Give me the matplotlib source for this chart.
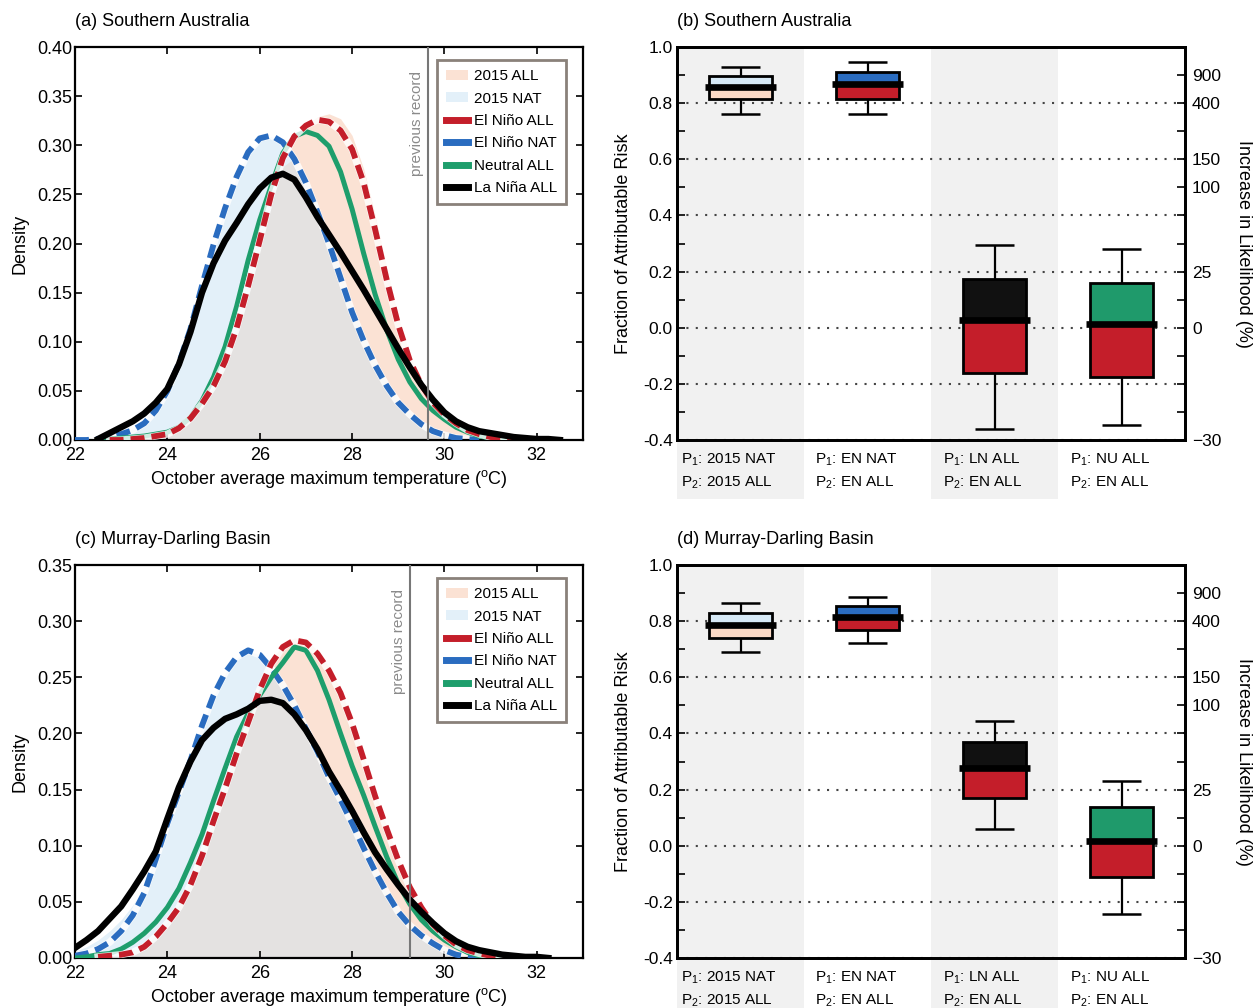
import matplotlib
matplotlib.use("Agg")
import matplotlib.pyplot as plt
import matplotlib.transforms as mtransforms
from matplotlib.lines import Line2D
from matplotlib.patches import Patch
import numpy as np

plt.rcParams["font.family"] = ["Liberation Sans", "DejaVu Sans"]
plt.rcParams["mathtext.fontset"] = "custom"
plt.rcParams["mathtext.rm"] = "Liberation Sans"
plt.rcParams["mathtext.it"] = "Liberation Sans:italic"

nan = np.nan

# temperature grid (degC) the densities are read on
temperature = np.arange(22.0, 32.51, 0.25)

# (a) Southern Australia densities
sa_all2015 = [0, 0, 0, 0, 0.000, 0.001, 0.002, 0.004, 0.007, 0.012, 0.021, 0.035, 0.053, 0.078,
              0.110, 0.150, 0.195, 0.240, 0.278, 0.305, 0.320, 0.329, 0.332, 0.327, 0.310, 0.276,
              0.228, 0.175, 0.125, 0.087, 0.060, 0.041, 0.028, 0.018, 0.011, 0.006, 0.003, 0.001,
              0, 0, 0, 0, 0]
sa_nat2015 = [0.000, 0.001, 0.002, 0.004, 0.007, 0.012, 0.020, 0.033, 0.053, 0.081, 0.116, 0.158,
              0.199, 0.236, 0.267, 0.291, 0.305, 0.309, 0.303, 0.287, 0.264, 0.235, 0.203, 0.169,
              0.135, 0.105, 0.079, 0.058, 0.041, 0.028, 0.018, 0.011, 0.006, 0.003, 0.001,
              0, 0, 0, 0, 0, 0, 0, 0]
sa_en_all = [nan, nan, nan, 0.000, 0.000, 0.001, 0.002, 0.004, 0.006, 0.012, 0.022, 0.037, 0.055,
             0.080, 0.114, 0.157, 0.203, 0.250, 0.287, 0.309, 0.320, 0.326, 0.324, 0.315, 0.296,
             0.262, 0.214, 0.163, 0.117, 0.081, 0.056, 0.038, 0.026, 0.017, 0.010, 0.006, 0.003,
             0.002, 0.001, 0.000, nan, nan, nan]
sa_en_nat = [0.000, 0.000, 0.001, 0.003, 0.006, 0.010, 0.017, 0.030, 0.050, 0.078, 0.113, 0.157,
             0.199, 0.236, 0.268, 0.293, 0.307, 0.310, 0.303, 0.286, 0.262, 0.232, 0.200, 0.165,
             0.130, 0.101, 0.076, 0.055, 0.038, 0.026, 0.016, 0.009, 0.005, 0.002, 0.001, 0.000,
             nan, nan, nan, nan, nan, nan, nan]
sa_neutral = [nan, nan, 0.000, 0.001, 0.002, 0.003, 0.004, 0.006, 0.008, 0.013, 0.023, 0.040, 0.064,
              0.095, 0.136, 0.183, 0.224, 0.259, 0.292, 0.309, 0.314, 0.310, 0.299, 0.273, 0.235,
              0.190, 0.148, 0.112, 0.082, 0.059, 0.042, 0.030, 0.021, 0.013, 0.008, 0.004, 0.002,
              0.001, 0.000, nan, nan, nan, nan]
sa_la_nina = [nan, nan, 0.001, 0.007, 0.013, 0.019, 0.027, 0.038, 0.052, 0.077, 0.110, 0.150, 0.180,
              0.203, 0.221, 0.240, 0.256, 0.267, 0.271, 0.265, 0.247, 0.227, 0.209, 0.191, 0.172,
              0.153, 0.133, 0.113, 0.093, 0.074, 0.056, 0.041, 0.028, 0.019, 0.013, 0.009, 0.007,
              0.005, 0.003, 0.002, 0.001, 0.001, 0.000]
sa_record = 29.65

# (c) Murray-Darling Basin densities
mdb_all2015 = [0, 0, 0.001, 0.002, 0.003, 0.006, 0.011, 0.020, 0.032, 0.047, 0.067, 0.093, 0.123,
               0.153, 0.184, 0.213, 0.242, 0.265, 0.279, 0.285, 0.283, 0.274, 0.259, 0.239, 0.212,
               0.180, 0.147, 0.117, 0.089, 0.065, 0.047, 0.032, 0.021, 0.013, 0.008, 0.004, 0.002,
               0.001, 0, 0, 0, 0, 0]
mdb_nat2015 = [0.006, 0.010, 0.016, 0.024, 0.034, 0.047, 0.064, 0.090, 0.120, 0.149, 0.177, 0.207,
               0.233, 0.253, 0.267, 0.273, 0.270, 0.258, 0.243, 0.225, 0.205, 0.184, 0.161, 0.141,
               0.120, 0.098, 0.077, 0.058, 0.041, 0.029, 0.020, 0.013, 0.007, 0.003, 0.001,
               0, 0, 0, 0, 0, 0, 0, 0]
mdb_en_all = [nan, nan, 0.001, 0.002, 0.003, 0.005, 0.010, 0.019, 0.031, 0.045, 0.065, 0.091, 0.122,
              0.151, 0.182, 0.210, 0.239, 0.262, 0.277, 0.283, 0.281, 0.271, 0.256, 0.236, 0.209,
              0.177, 0.144, 0.115, 0.087, 0.063, 0.045, 0.030, 0.020, 0.012, 0.007, 0.004, 0.002,
              0.001, 0.000, nan, nan, nan, nan]
mdb_en_nat = [0.002, 0.004, 0.008, 0.014, 0.024, 0.038, 0.058, 0.088, 0.120, 0.148, 0.176, 0.207,
              0.234, 0.254, 0.268, 0.274, 0.270, 0.258, 0.243, 0.225, 0.204, 0.184, 0.161, 0.141,
              0.120, 0.098, 0.077, 0.058, 0.041, 0.029, 0.020, 0.013, 0.007, 0.003, 0.001, 0.000,
              nan, nan, nan, nan, nan, nan, nan]
mdb_neutral = [0.000, 0.001, 0.003, 0.004, 0.008, 0.014, 0.022, 0.032, 0.045, 0.062, 0.085, 0.110,
               0.140, 0.169, 0.197, 0.218, 0.234, 0.250, 0.263, 0.277, 0.274, 0.256, 0.230, 0.200,
               0.171, 0.145, 0.117, 0.090, 0.066, 0.048, 0.034, 0.024, 0.016, 0.010, 0.005, 0.002,
               0.001, 0.000, nan, nan, nan, nan, nan]
mdb_la_nina = [0.009, 0.016, 0.024, 0.035, 0.046, 0.061, 0.077, 0.095, 0.124, 0.152, 0.175, 0.194,
               0.205, 0.213, 0.217, 0.222, 0.229, 0.230, 0.227, 0.217, 0.203, 0.186, 0.166, 0.149,
               0.131, 0.112, 0.094, 0.079, 0.065, 0.052, 0.041, 0.031, 0.022, 0.015, 0.010, 0.007,
               0.005, 0.003, 0.002, 0.001, 0.001, 0.000, nan]
mdb_record = 29.26

# (b), (d) fraction of attributable risk box plots
pair_labels = ["P$_1$: 2015 NAT\nP$_2$: 2015 ALL", "P$_1$: EN NAT\nP$_2$: EN ALL",
               "P$_1$: LN ALL\nP$_2$: EN ALL", "P$_1$: NU ALL\nP$_2$: EN ALL"]
sa_far_lo = [0.760, 0.762, -0.360, -0.348]
sa_far_q1 = [0.813, 0.815, -0.161, -0.175]
sa_far_med = [0.858, 0.867, 0.027, 0.015]
sa_far_q3 = [0.896, 0.911, 0.174, 0.158]
sa_far_hi = [0.929, 0.946, 0.295, 0.281]
mdb_far_lo = [0.690, 0.722, 0.060, -0.242]
mdb_far_q1 = [0.740, 0.770, 0.171, -0.110]
mdb_far_med = [0.788, 0.814, 0.277, 0.016]
mdb_far_q3 = [0.830, 0.854, 0.371, 0.139]
mdb_far_hi = [0.866, 0.886, 0.443, 0.231]
likelihood_pct = [900, 400, 150, 100, 25, 0, -30]

PEACH = "#fbe2d4"
LIGHTBLUE = "#e3f0f9"
OVERLAP = "#e4e2e1"
RED = "#c41e2a"
BLUE = "#2a6cc0"
GREEN = "#1e9e6c"
upper_colors = ["#d6e9f6", BLUE, "#111111", "#1f9a6b"]
lower_colors = ["#fbd9c5", RED, RED, RED]


def draw_density(ax, all2015, nat2015, en_all, en_nat, neutral, la_nina, record, ymax, title):
    all_f = np.nan_to_num(np.array(all2015, dtype=float))
    nat_f = np.nan_to_num(np.array(nat2015, dtype=float))
    ax.fill_between(temperature, 0, all_f, color=PEACH, lw=0, zorder=1)
    ax.fill_between(temperature, 0, nat_f, color=LIGHTBLUE, lw=0, zorder=1)
    ax.fill_between(temperature, 0, np.minimum(all_f, nat_f), color=OVERLAP, lw=0, zorder=1)

    ax.plot(temperature, en_nat, color="white", lw=5.2, alpha=0.8, zorder=2)
    ax.plot(temperature, en_nat, color=BLUE, lw=4.2, dashes=(2.4, 1.2), zorder=3)
    ax.plot(temperature, neutral, color=GREEN, lw=3.6, zorder=4)
    ax.plot(temperature, en_all, color="white", lw=5.2, alpha=0.8, zorder=4)
    ax.plot(temperature, en_all, color=RED, lw=4.2, dashes=(2.4, 1.2), zorder=5)
    ax.plot(temperature, la_nina, color="black", lw=4.6, zorder=6)

    ax.axvline(record, color="#777777", lw=1.5, zorder=7)
    trans = mtransforms.blended_transform_factory(ax.transData, ax.transAxes)
    ax.text(record - 0.25, 0.94, "previous record", transform=trans, rotation=90,
            ha="center", va="top", fontsize=11, color="#8a8a8a")

    ax.set_xlim(22, 33)
    ax.set_ylim(0, ymax)
    ax.set_xticks([22, 24, 26, 28, 30, 32])
    ax.set_yticks(np.arange(0, ymax + 0.001, 0.05))
    ax.yaxis.set_major_formatter(plt.FormatStrFormatter("%.2f"))
    ax.tick_params(direction="in", top=True, right=True, length=5, width=1.2, labelsize=13)
    ax.tick_params(axis="y", pad=2)
    ax.tick_params(axis="x", pad=5)
    ax.set_ylabel("Density", fontsize=13, labelpad=6)
    ax.set_xlabel(r"October average maximum temperature ($^{\rm o}$C)", fontsize=13, labelpad=3)
    for sp in ax.spines.values():
        sp.set_linewidth(1.6)
    ax.text(0, 1.064, title, transform=ax.transAxes, fontsize=13, va="center", ha="left")

    handles = [Patch(facecolor=PEACH, edgecolor="none"),
               Patch(facecolor=LIGHTBLUE, edgecolor="none"),
               Line2D([], [], color=RED, lw=5),
               Line2D([], [], color=BLUE, lw=5),
               Line2D([], [], color=GREEN, lw=5),
               Line2D([], [], color="black", lw=5)]
    labels = ["2015 ALL", "2015 NAT", "El Niño ALL", "El Niño NAT", "Neutral ALL", "La Niña ALL"]
    leg = ax.legend(handles, labels, loc="upper left", bbox_to_anchor=(0.713, 0.967),
                    borderaxespad=0, fontsize=11, fancybox=False, framealpha=1,
                    edgecolor="#8a817a", handlelength=1.4, handleheight=0.6,
                    handletextpad=0.4, labelspacing=0.55, borderpad=0.6)
    leg.get_frame().set_linewidth(2)
    leg.set_zorder(10)


def draw_far(ax, lo, q1, med, q3, hi, title):
    x = np.arange(1, len(med) + 1)
    for start in x[::2]:
        ax.axvspan(start - 0.5, start + 0.5, ymin=-0.15, ymax=1, color="#f1f1f1", lw=0,
                   zorder=0, clip_on=False)
    ax.set_axisbelow(True)
    ax.yaxis.grid(True, linestyle=(0, (1, 3.5)), color="#444444", lw=1.5)

    box_w, cap_w, med_w = 0.5, 0.3, 0.56
    ax.vlines(x, q3, hi, color="black", lw=1.6, zorder=3)
    ax.vlines(x, lo, q1, color="black", lw=1.6, zorder=3)
    ax.hlines(hi, x - cap_w / 2, x + cap_w / 2, color="black", lw=1.8, zorder=3)
    ax.hlines(lo, x - cap_w / 2, x + cap_w / 2, color="black", lw=1.8, zorder=3)
    ax.bar(x, np.subtract(med, q1), box_w, bottom=q1, color=lower_colors, lw=0, zorder=4)
    ax.bar(x, np.subtract(q3, med), box_w, bottom=med, color=upper_colors, lw=0, zorder=4)
    ax.bar(x, np.subtract(q3, q1), box_w, bottom=q1, fill=False, edgecolor="black", lw=2, zorder=5)
    ax.hlines(med, x - med_w / 2, x + med_w / 2, color="black", lw=4.8, zorder=6)

    ax.set_xlim(0.5, 4.5)
    ax.set_ylim(-0.4, 1.0)
    ax.set_xticks(x - 0.09, pair_labels)
    for lbl in ax.get_xticklabels():
        lbl.set_multialignment("left")
        lbl.set_linespacing(1.55)
    ax.set_yticks(np.arange(-0.4, 1.01, 0.2))
    ax.set_yticks(np.arange(-0.4, 1.01, 0.1), minor=True)
    ax.yaxis.set_major_formatter(plt.FormatStrFormatter("%.1f"))
    ax.tick_params(axis="x", length=0, pad=8, labelsize=11)
    ax.tick_params(axis="y", which="both", direction="in", length=6, width=1.2,
                   labelsize=12.5, pad=3)
    ax.set_ylabel("Fraction of Attributable Risk", fontsize=13, labelpad=8)
    for sp in ax.spines.values():
        sp.set_linewidth(2)
    ax.text(0, 1.064, title, transform=ax.transAxes, fontsize=13, va="center", ha="left")

    ax2 = ax.twinx()
    ax2.set_ylim(ax.get_ylim())
    pct = np.array(likelihood_pct, dtype=float)
    far_pos = np.clip(1 - 100 / (100 + pct), -0.4, 1.0)
    ax2.set_yticks(far_pos, [str(v).replace("-", "\u2212") for v in likelihood_pct])
    ax2.set_yticks(np.arange(-0.4, 1.01, 0.1), minor=True)
    ax2.tick_params(axis="y", which="both", direction="in", length=6, width=1.2,
                    labelsize=12.5, pad=5)
    ax2.set_ylabel("Increase in Likelihood (%)", fontsize=13, rotation=270, labelpad=22)
    for sp in ax2.spines.values():
        sp.set_linewidth(2)


fig = plt.figure(figsize=(12.58, 10.08), dpi=100)
w, h = 508 / 1258, 393 / 1008
ax_a = fig.add_axes([75 / 1258, 568 / 1008, w, h])
ax_b = fig.add_axes([677 / 1258, 568 / 1008, w, h])
ax_c = fig.add_axes([75 / 1258, 50 / 1008, w, h])
ax_d = fig.add_axes([677 / 1258, 50 / 1008, w, h])

draw_density(ax_a, sa_all2015, sa_nat2015, sa_en_all, sa_en_nat, sa_neutral, sa_la_nina,
             sa_record, 0.40, "(a) Southern Australia")
draw_density(ax_c, mdb_all2015, mdb_nat2015, mdb_en_all, mdb_en_nat, mdb_neutral, mdb_la_nina,
             mdb_record, 0.35, "(c) Murray-Darling Basin")
draw_far(ax_b, sa_far_lo, sa_far_q1, sa_far_med, sa_far_q3, sa_far_hi, "(b) Southern Australia")
draw_far(ax_d, mdb_far_lo, mdb_far_q1, mdb_far_med, mdb_far_q3, mdb_far_hi,
         "(d) Murray-Darling Basin")

fig.savefig("out.png", dpi=100)
